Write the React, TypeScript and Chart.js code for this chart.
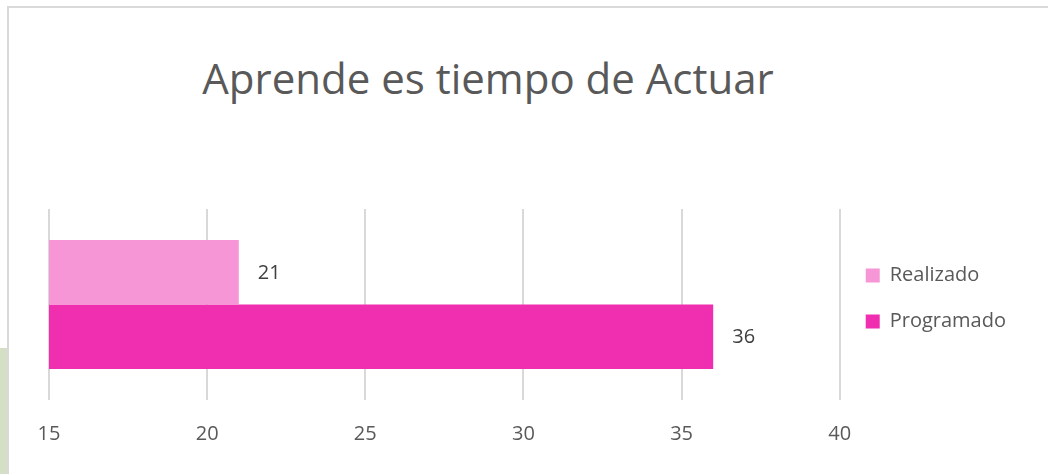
import React, { useEffect, useRef } from "react";
import { Chart, registerables } from "chart.js";

Chart.register(...registerables);

const categories: string[] = ["Aprende es tiempo de Actuar"];
const seriesNames: string[] = ["Realizado", "Programado"];
const realizado: number[] = [21];
const programado: number[] = [36];
const xTicks: number[] = [15, 20, 25, 30, 35, 40];
const titleText = "Aprende es tiempo de Actuar";

const FONT = "'Open Sans', 'Noto Sans', sans-serif";

const valueLabels = {
  id: "valueLabels",
  afterDatasetsDraw(chart: any) {
    const ctx = chart.ctx;
    ctx.save();
    ctx.font = `20px ${FONT}`;
    ctx.fillStyle = "#404040";
    ctx.textAlign = "left";
    ctx.textBaseline = "middle";
    chart.data.datasets.forEach((ds: any, i: number) => {
      const meta = chart.getDatasetMeta(i);
      meta.data.forEach((el: any, j: number) => {
        ctx.fillText(String(ds.data[j]), el.x + 19, el.y + 1);
      });
    });
    ctx.restore();
  },
};

export default function App() {
  const ref = useRef<HTMLCanvasElement | null>(null);
  useEffect(() => {
    if (!ref.current) return;
    const chart = new Chart(ref.current, {
      type: "bar",
      data: {
        labels: categories,
        datasets: [
          {
            label: seriesNames[0],
            data: realizado,
            backgroundColor: "#F796D6",
            borderWidth: 0,
          },
          {
            label: seriesNames[1],
            data: programado,
            backgroundColor: "#F02EB0",
            borderWidth: 0,
          },
        ],
      },
      options: {
        indexAxis: "y",
        animation: false,
        responsive: false,
        maintainAspectRatio: false,
        categoryPercentage: 0.675,
        barPercentage: 1,
        layout: { padding: { left: 49, top: 209, right: 32, bottom: 6 } },
        scales: {
          x: {
            min: xTicks[0],
            max: xTicks[xTicks.length - 1],
            afterBuildTicks(axis: any) {
              axis.ticks = xTicks.map((v) => ({ value: v }));
            },
            grid: { color: "#d9d9d9", lineWidth: 2, drawTicks: false },
            border: { display: false },
            ticks: {
              padding: 22,
              color: "#595959",
              font: { family: FONT, size: 20 },
            },
          },
          y: {
            display: false,
          },
        },
        plugins: {
          title: { display: false },
          tooltip: { enabled: false },
          legend: {
            position: "right",
            align: "start",
            title: { display: true, text: " ", padding: 8, font: { size: 12 } },
            labels: {
              boxWidth: 14,
              boxHeight: 14,
              padding: 26,
              color: "#595959",
              font: { family: FONT, size: 20 },
            },
          },
        },
      },
      plugins: [valueLabels],
    });
    return () => chart.destroy();
  }, []);

  return (
    <div
      style={{
        position: "fixed",
        left: 0,
        top: 0,
        width: 1048,
        height: 474,
        overflow: "hidden",
        background: "#ffffff",
      }}
    >
      <div
        style={{
          position: "absolute",
          left: 0,
          top: 348,
          width: 8,
          height: 126,
          background: "#d5dfc6",
        }}
      />
      <div
        style={{
          position: "absolute",
          left: 7,
          top: 6,
          width: 1200,
          height: 600,
          borderLeft: "2px solid #d9d9d9",
          borderTop: "2px solid #d9d9d9",
          background: "#ffffff",
        }}
      />
      <div
        style={{
          position: "absolute",
          left: 0,
          top: 48,
          width: 976,
          textAlign: "center",
          fontFamily: FONT,
          fontSize: 42,
          lineHeight: "60px",
          color: "#595959",
          whiteSpace: "nowrap",
        }}
      >
        {titleText}
      </div>
      <canvas
        ref={ref}
        width={1048}
        height={474}
        style={{ position: "absolute", left: 0, top: 0, width: 1048, height: 474 }}
      />
    </div>
  );
}
